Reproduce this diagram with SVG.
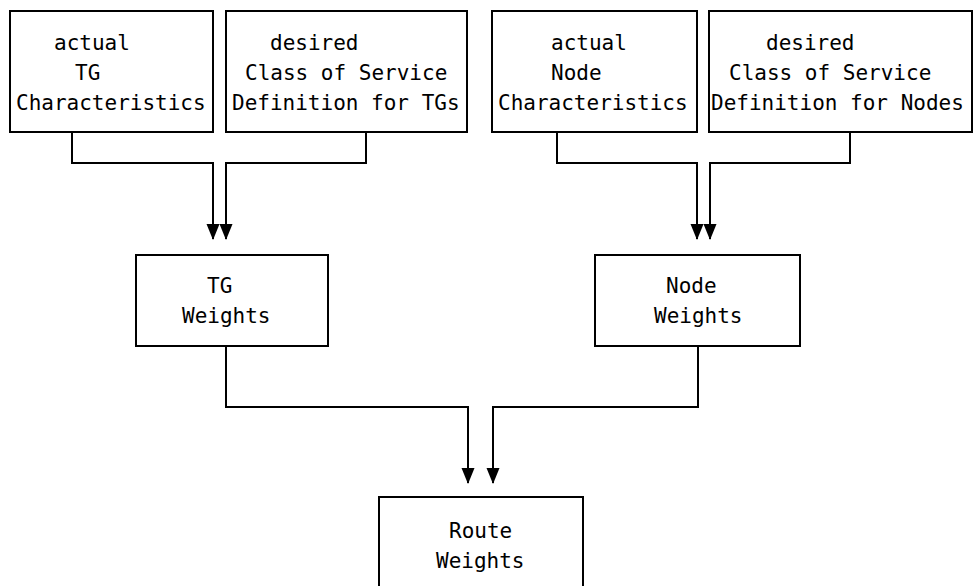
<svg xmlns="http://www.w3.org/2000/svg" width="973" height="586" viewBox="0 0 973 586">
<style>
.box{fill:#fff;stroke:#000;stroke-width:2}
.lbl{font-family:"DejaVu Sans Mono","Liberation Mono",monospace;font-size:21px;fill:#000}
.con{fill:none;stroke:#000;stroke-width:2;marker-end:url(#ah)}
</style>
<defs>
<marker id="ah" markerUnits="userSpaceOnUse" markerWidth="16" markerHeight="14" refX="15" refY="7" orient="auto" viewBox="0 0 16 14">
<path d="M0,0.5 L16,7 L0,13.5 Z" fill="#000"/>
</marker>
</defs>
<rect width="973" height="586" fill="#fff"/>
<g id="connectors">
<path class="con" d="M72,132 V163 H213 V239"/>
<path class="con" d="M366,132 V163 H226 V239"/>
<path class="con" d="M557,132 V163 H697 V239"/>
<path class="con" d="M850,132 V163 H710 V239"/>
<path class="con" d="M226,346 V407 H468 V483"/>
<path class="con" d="M698,346 V407 H493 V483"/>
</g>
<g id="n1">
<rect class="box" x="10" y="11" width="203" height="121"/>
<text class="lbl" x="54" y="50">actual</text>
<text class="lbl" x="75" y="80">TG</text>
<text class="lbl" x="16" y="110">Characteristics</text>
</g>
<g id="n2">
<rect class="box" x="226" y="11" width="241" height="121"/>
<text class="lbl" x="270" y="50">desired</text>
<text class="lbl" x="245" y="80">Class of Service</text>
<text class="lbl" x="232" y="110">Definition for TGs</text>
</g>
<g id="n3">
<rect class="box" x="492" y="11" width="205" height="121"/>
<text class="lbl" x="551" y="50">actual</text>
<text class="lbl" x="551" y="80">Node</text>
<text class="lbl" x="498" y="110">Characteristics</text>
</g>
<g id="n4">
<rect class="box" x="709" y="11" width="263" height="121"/>
<text class="lbl" x="766" y="50">desired</text>
<text class="lbl" x="729" y="80">Class of Service</text>
<text class="lbl" x="711" y="110">Definition for Nodes</text>
</g>
<g id="n5">
<rect class="box" x="136" y="255" width="192" height="91"/>
<text class="lbl" x="207" y="293">TG</text>
<text class="lbl" x="182" y="323">Weights</text>
</g>
<g id="n6">
<rect class="box" x="595" y="255" width="205" height="91"/>
<text class="lbl" x="666" y="293">Node</text>
<text class="lbl" x="654" y="323">Weights</text>
</g>
<g id="n7">
<rect class="box" x="379" y="497" width="204" height="100"/>
<text class="lbl" x="449" y="538">Route</text>
<text class="lbl" x="436" y="568">Weights</text>
</g>
</svg>
